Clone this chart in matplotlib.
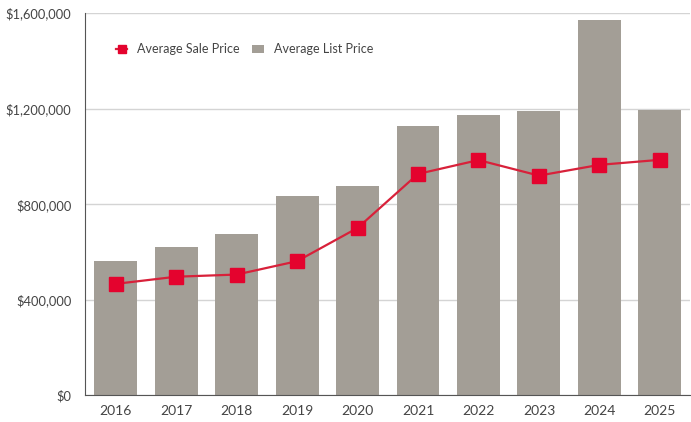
import numpy as np
import matplotlib.pyplot as plt
from matplotlib.ticker import FuncFormatter

plt.rcParams['font.family'] = ['Lato', 'DejaVu Sans']

years = ['2016', '2017', '2018', '2019', '2020', '2021', '2022', '2023', '2024', '2025']
list_price = [562000, 623000, 677000, 835000, 876000, 1129000, 1174000, 1190000, 1573000, 1194000]
sale_price = [467000, 497000, 506000, 562000, 701000, 927000, 985000, 920000, 965000, 986000]

bar_color = '#a39e96'
red = '#e4032e'
text_color = '#444444'

fig = plt.figure(figsize=(6.91, 4.22), dpi=100)
ax = fig.add_axes([0.1237, 0.0628, 0.875, 0.9062])

x = np.arange(len(years))
ax.bar(x, list_price, width=0.71, color=bar_color, label='Average List Price', zorder=2)
ax.plot(x, sale_price, color='#d8213a', lw=1.6, marker='s', markersize=10,
        markerfacecolor=red, markeredgecolor=red, label='Average Sale Price', zorder=3)

ax.set_xlim(-0.5, len(years) - 0.5)
ax.set_ylim(0, 1600000)
ax.set_yticks([0, 400000, 800000, 1200000, 1600000])
ax.yaxis.set_major_formatter(FuncFormatter(lambda v, p: '${:,.0f}'.format(v)))
ax.set_xticks(x)
ax.set_xticklabels(years)

ax.grid(axis='y', color='#d4d4d4', lw=1, zorder=0)
ax.set_axisbelow(True)
for s in ['top', 'right']:
    ax.spines[s].set_visible(False)
ax.spines['left'].set_color('#555555')
ax.spines['bottom'].set_color('#555555')
ax.tick_params(length=0, labelsize=10, labelcolor=text_color)
ax.tick_params(axis='y', pad=10, labelsize=9.3)
ax.tick_params(axis='x', pad=7)

handles, labels = ax.get_legend_handles_labels()
leg = ax.legend(handles, labels, ncol=2, frameon=False, loc='upper left',
                bbox_to_anchor=(0.032, 0.95), fontsize=9, handlelength=0.9,
                handletextpad=0.8, columnspacing=1.0, markerscale=0.6)
for t in leg.get_texts():
    t.set_color(text_color)

fig.savefig('out.png', dpi=100)
